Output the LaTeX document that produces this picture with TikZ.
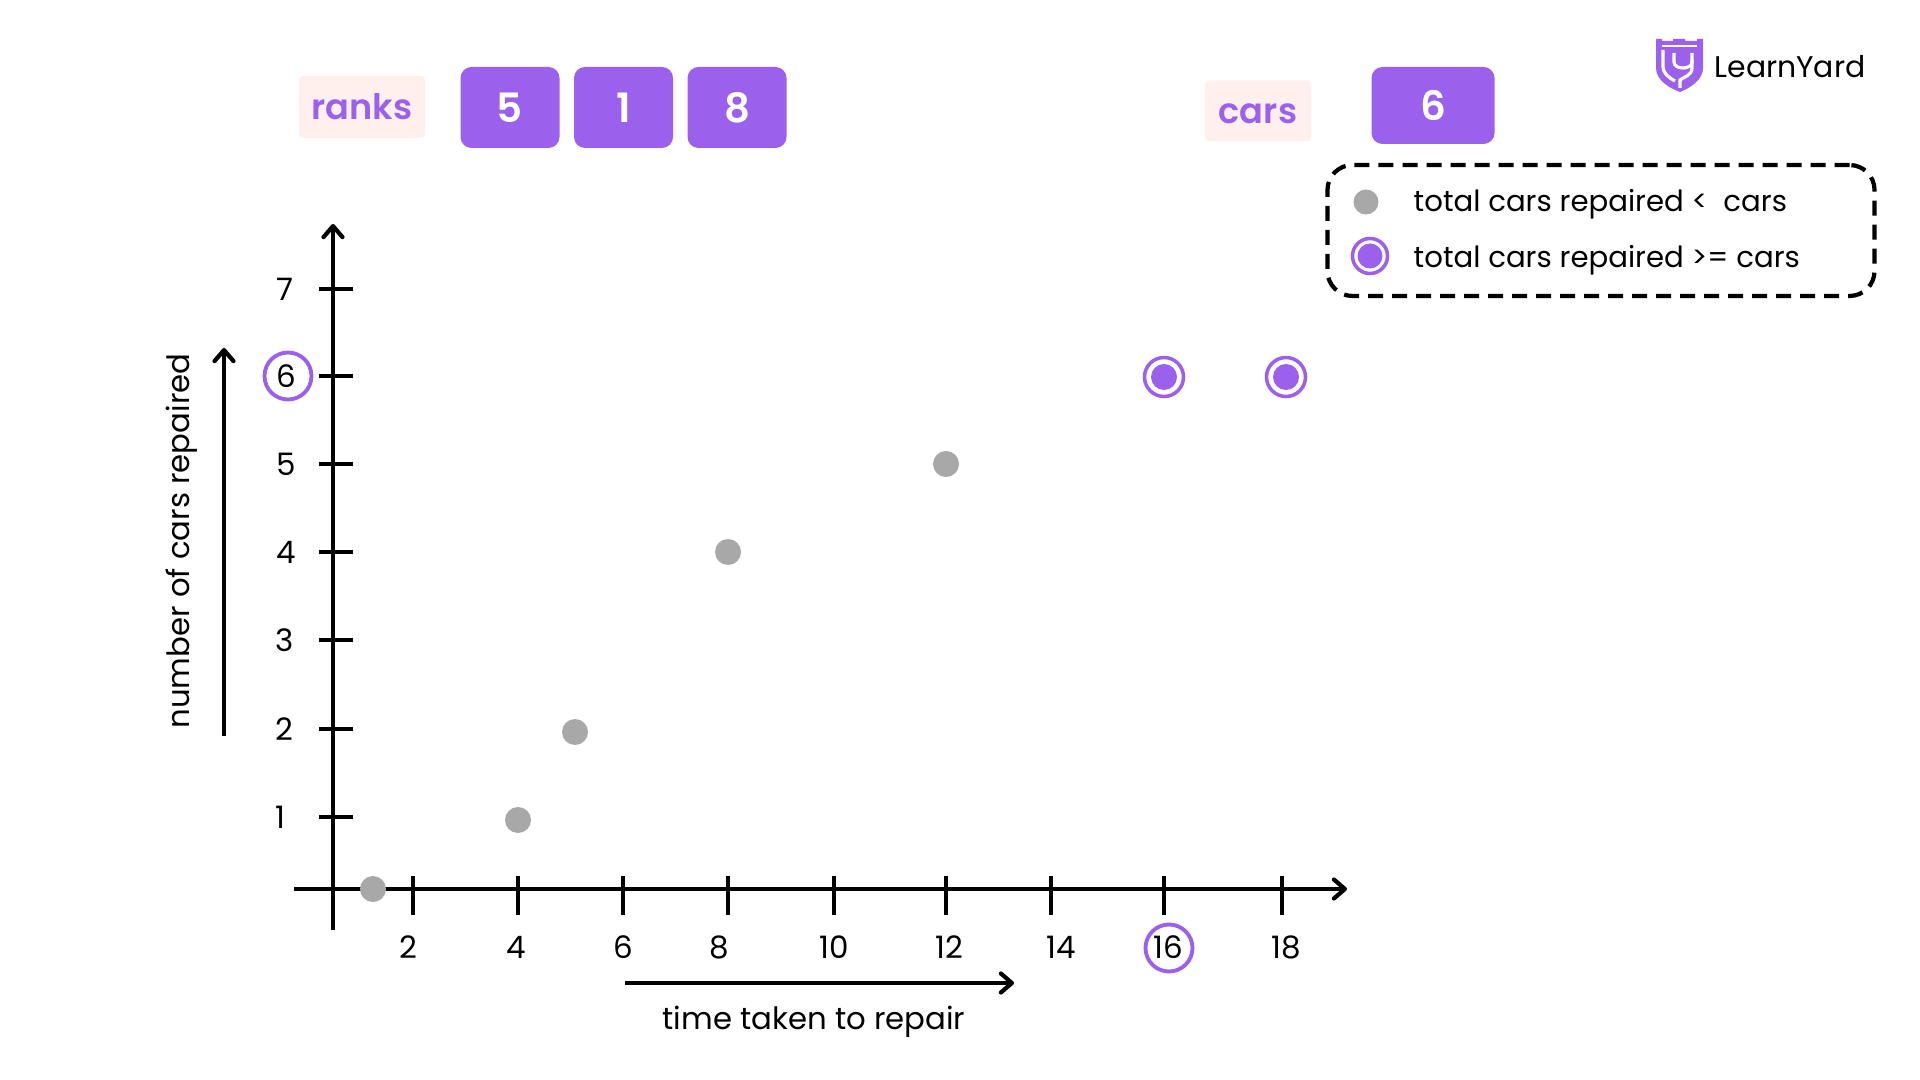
\documentclass[tikz,border=0pt]{standalone}
\usepackage{fontspec}
\setmainfont{Poppins}
\newfontfamily\semifont{Poppins SemiBold}
\usetikzlibrary{arrows.meta}
\definecolor{lypurple}{HTML}{9B61EC}
\definecolor{lygray}{HTML}{A8A8A8}
\definecolor{lypink}{HTML}{FFF0ED}
\tikzset{
  axisline/.style={line width=1.3pt,-{Straight Barb[length=1.1mm,width=1.9mm,line width=1.2pt,round]}},
  tickline/.style={line width=1.3pt},
  numlabel/.style={font=\fontsize{8.8}{10}\selectfont},
  plaintext/.style={font=\fontsize{8.75}{10}\selectfont},
  legendtext/.style={font=\fontsize{8.3}{10}\selectfont,anchor=west,inner sep=0pt},
  numbox/.style={fill=lypurple,rounded corners=1.1mm,minimum width=9.9mm,minimum height=8.1mm,text=white,inner sep=0pt,font=\fontsize{11.5}{12}\selectfont\semifont},
  tagbox/.style={fill=lypink,rounded corners=0.4mm,inner sep=0pt,text=lypurple,font=\fontsize{10}{12}\selectfont\semifont},
  graydot/.style={circle,fill=lygray,minimum size=2.6mm,inner sep=0pt},
  purpledot/.style={circle,fill=lypurple,minimum size=2.6mm,inner sep=0pt},
  ringout/.style={circle,draw=lypurple,line width=1pt,minimum size=3.9mm,inner sep=0pt},
  markout/.style={circle,draw=lypurple,line width=1.1pt,minimum size=4.7mm,inner sep=0pt},
}
\begin{document}
\begin{tikzpicture}[x=0.2845pt,y=-0.2845pt]
\useasboundingbox (0,0) rectangle (1920,1080);

% top row
\node[tagbox,minimum width=12.6mm,minimum height=6.2mm] (ranks) at (362,107) {ranks};
\node[numbox] (r1) at (510,107.5) {5};
\node[numbox] (r2) at (623.5,107.5) {1};
\node[numbox] (r3) at (737,107.5) {8};
\node[tagbox,minimum width=10.6mm,minimum height=6.1mm] (cars) at (1258,111) {};
\node[text=lypurple,font=\fontsize{10}{12}\selectfont\semifont,inner sep=0pt] (carstext) at (1258,114) {cars};
\node[numbox,minimum width=12.3mm,minimum height=7.7mm] (carval) at (1433,105.5) {6};

% axes
\coordinate (xstart) at (294,889);
\coordinate (xend) at (1347,889);
\coordinate (ystart) at (333,930);
\coordinate (yend) at (333,224);
\draw[axisline] (xstart) -- (xend);
\draw[axisline] (ystart) -- (yend);

\foreach \x/\lx/\t in {413/408/2,518/516/4,623/623/6,728/719/8,834/834/10,946/949/12,1051/1061/14,1164/1168/16,1282/1286/18}
{
  \draw[tickline] (\x,876) -- (\x,915);
  \node[numlabel] (xl\t) at (\lx,947) {\t};
}
\foreach \y/\lx/\t in {817/280/1,729/284/2,640/285/3,552/286/4,464/286/5,376/286/6,289/285/7}
{
  \draw[tickline] (319,\y) -- (353,\y);
  \node[numlabel] (yl\t) at (\lx,\y) {\t};
}

% marked axis values
\node[markout] (mark6) at (288,376) {};
\node[markout] (mark16) at (1169,948) {};

% points
\foreach \n/\x/\y in {a/373/889,b/518/820,c/575/732,d/728/552,e/946/464}
  \node[graydot] (\n) at (\x,\y) {};
\foreach \n/\x in {f/1164,g/1286}
{
  \node[ringout] (\n o) at (\x,377) {};
  \node[purpledot] (\n) at (\x,377) {};
}

% axis captions
\coordinate (ya) at (224,736);
\coordinate (yb) at (224,348);
\draw[axisline] (ya) -- (yb);
\node[plaintext,rotate=90] (ylabel) at (182,541) {number of cars repaired};
\coordinate (xa) at (625,983);
\coordinate (xb) at (1014,983);
\draw[axisline] (xa) -- (xb);
\node[plaintext] (xlabel) at (814,1022) {time taken to repair};

% legend
\node[draw,line width=1.2pt,dash pattern=on 1.5mm off 0.9mm,rounded corners=2.5mm,minimum width=54.7mm,minimum height=13.1mm] (legend) at (1601,230.5) {};
\node[graydot,minimum size=2.5mm] (l1) at (1366,202) {};
\node[ringout,minimum size=3.5mm] (l2o) at (1370,256) {};
\node[purpledot,minimum size=2.5mm] (l2) at (1370,256) {};
\node[legendtext] (lt1) at (1413,204) {total cars repaired <\ \ cars};
\node[legendtext] (lt2) at (1413,260) {total cars repaired >= cars};

% logo
\fill[lypurple] (1656,39) -- (1662,39) -- (1662,41) -- (1673,41) -- (1673,39) -- (1685,39) -- (1685,41) -- (1697,41) -- (1697,39) -- (1703,39) -- (1703,68) .. controls (1703,80) and (1690,88) .. (1680,92) .. controls (1669,88) and (1656,80) .. (1656,68) -- cycle;
\draw[white,line width=0.8pt] (1662,46) -- (1697,46);
\draw[white,line width=0.9pt] (1663,50) -- (1663,67) .. controls (1663,73) and (1669,78) .. (1675,81);
\draw[white,line width=0.9pt] (1674,53) -- (1674,62) .. controls (1674,70) and (1692,70) .. (1692,62) -- (1692,53);
\draw[white,line width=0.9pt] (1692,60) -- (1692,68) .. controls (1692,76) and (1683,77) .. (1680,80) -- (1680,88);
\node[inner sep=0pt,font=\fontsize{8.5}{12}\selectfont] (logo) at (1790,67) {LearnYard};
\end{tikzpicture}
\end{document}
